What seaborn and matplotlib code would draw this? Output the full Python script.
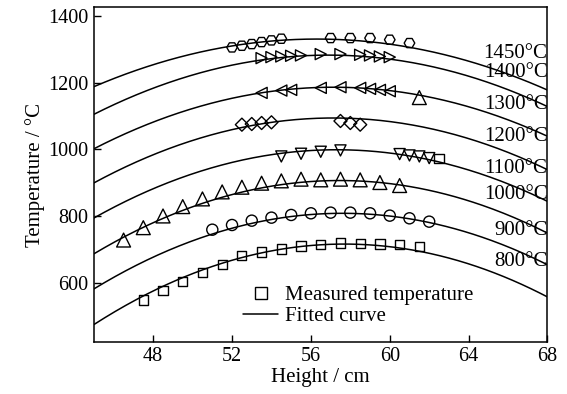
import numpy as np
import matplotlib
matplotlib.use("Agg")
import matplotlib.pyplot as plt
from matplotlib.lines import Line2D
import seaborn as sns

# ---- fitted parabolas T(h) = peak_T - k * (h - peak_h)^2 ----
furnace_temps = ["1450°C", "1400°C", "1300°C", "1200°C", "1100°C", "1000°C", "900°C", "800°C"]
fit_peak_T = [1330, 1282, 1186, 1094, 999, 907, 809, 717]
fit_peak_h = [56.3, 56.9, 57.15, 57.15, 57.3, 57.45, 57.6, 57.7]
fit_k = [1.114, 1.249, 1.246, 1.314, 1.348, 1.413, 1.423, 1.491]
label_T = [1288, 1230, 1134, 1039, 944, 864, 759, 664]

# ---- measured temperatures ----
h1450 = [52, 52.5, 53, 53.5, 54, 54.5, 57, 58, 59, 60, 61]
t1450 = [1305, 1310, 1315, 1321, 1326, 1331, 1333, 1333, 1333, 1328, 1318]

h1400 = [53.5, 54, 54.5, 55, 55.5, 56.5, 57.5, 58.5, 59, 59.5, 60]
t1400 = [1273, 1276, 1278, 1280, 1281, 1285, 1285, 1283, 1281, 1278, 1276]

h1300 = [53.5, 54.5, 55, 56.5, 57.5, 58.5, 59, 59.5, 60]
t1300 = [1169, 1176, 1178, 1184, 1186, 1184, 1181, 1178, 1174]

h1200 = [52.5, 53, 53.5, 54, 57.5, 58, 58.5]
t1200 = [1074, 1076, 1079, 1081, 1085, 1079, 1074]

h1100 = [54.5, 55.5, 56.5, 57.5, 60.5, 61, 61.5, 62]
t1100 = [979, 987, 993, 997, 986, 982, 979, 974]

h1000 = [46.5, 47.5, 48.5, 49.5, 50.5, 51.5, 52.5, 53.5, 54.5, 55.5,
         56.5, 57.5, 58.5, 59.5, 60.5]
t1000 = [729, 766, 801, 829, 852, 873, 887, 899, 906, 911,
         909, 911, 909, 901, 892]

h900 = [51, 52, 53, 54, 55, 56, 57, 58, 59, 60, 61, 62]
t900 = [760, 774, 787, 796, 804, 809, 811, 811, 809, 802, 794, 784]

h800 = [47.5, 48.5, 49.5, 50.5, 51.5, 52.5, 53.5, 54.5, 55.5,
        56.5, 57.5, 58.5, 59.5, 60.5, 61.5]
t800 = [550, 577, 605, 633, 657, 682, 693, 702, 711,
        716, 720, 719, 717, 715, 709]

# odd single readings drawn with other symbols
h_extra_tri = [61.5]
t_extra_tri = [1155]
h_extra_sq = [62.5]
t_extra_sq = [974]

series = [
    (h1450, t1450, "H", 58),
    (h1400, t1400, ">", 64),
    (h1300, t1300, "<", 64),
    (h1200, t1200, "D", 44),
    (h1100, t1100, "v", 64),
    (h1000, t1000, "^", 100),
    (h900, t900, "o", 64),
    (h800, t800, "s", 44),
    (h_extra_tri, t_extra_tri, "^", 100),
    (h_extra_sq, t_extra_sq, "s", 44),
]

sns.set_theme(style="ticks")
plt.rcParams["font.family"] = ["Liberation Serif", "DejaVu Serif"]
plt.rcParams["xtick.direction"] = "in"
plt.rcParams["ytick.direction"] = "in"
plt.rcParams["text.color"] = "black"
plt.rcParams["axes.labelcolor"] = "black"
plt.rcParams["xtick.color"] = "black"
plt.rcParams["ytick.color"] = "black"
plt.rcParams["axes.edgecolor"] = "black"

fig = plt.figure(figsize=(5.67, 3.94), dpi=100)
ax = fig.add_axes([0.1658, 0.1327, 0.7998, 0.8488])

h_grid = np.linspace(45, 68, 300)
for T0, h0, k in zip(fit_peak_T, fit_peak_h, fit_k):
    sns.lineplot(x=h_grid, y=T0 - k * (h_grid - h0) ** 2, ax=ax,
                 color="black", linewidth=1.1, legend=False)

for hx, ty, mk, sz in series:
    sns.scatterplot(x=hx, y=ty, ax=ax, marker=mk, s=sz,
                    facecolor="none", edgecolor="black", linewidth=1.0,
                    legend=False, zorder=3)

for name, ty in zip(furnace_temps, label_T):
    ax.text(68.0, ty, name, ha="right", va="center", fontsize=15, color="black")

ax.set_xlim(45, 68)
ax.set_ylim(425, 1425)
ax.set_xticks([48, 52, 56, 60, 64, 68])
ax.set_yticks([600, 800, 1000, 1200, 1400])
ax.tick_params(labelsize=14.5, length=5, width=1, color="black",
               pad=4, labelcolor="black")
for sp in ax.spines.values():
    sp.set_linewidth(1.1)
    sp.set_color("black")

ax.set_xlabel("Height / cm", fontsize=15, labelpad=1)
ax.set_ylabel("Temperature / °C", fontsize=15, labelpad=2)

handles = [
    Line2D([], [], linestyle="none", marker="s", markersize=9,
           markerfacecolor="none", markeredgecolor="black", markeredgewidth=1.0),
    Line2D([], [], color="black", linewidth=1.1),
]
leg = ax.legend(handles, ["Measured temperature", "Fitted curve"],
                loc="center left", bbox_to_anchor=(0.414, 0.2234),
                bbox_transform=fig.transFigure, frameon=False, fontsize=15,
                handlelength=1.7, handletextpad=0.3, labelspacing=0.05,
                borderaxespad=0)
for txt in leg.get_texts():
    txt.set_color("black")

fig.savefig("out.png", dpi=100)
